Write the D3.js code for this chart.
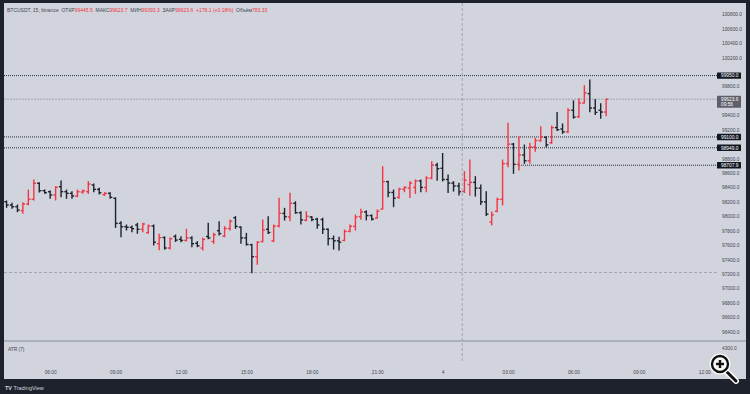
<!DOCTYPE html>
<html>
<head>
<meta charset="utf-8">
<script src="https://cdn.jsdelivr.net/npm/d3@7"></script>
<style>
  body { margin: 0; background: #1e222d; }
  svg { display: block; }
  text { font-family: "Liberation Sans", Arial, sans-serif; }
</style>
</head>
<body>
<script>
// BTCUSDT 15m bars, 04:00 (day 3) .. 07:30 (day 4)
var startTime = "2024-12-03T04:00:00Z";
var opens = [98202,98156,98133,98078,98170,98235,98457,98355,98341,98295,98410,98341,98318,98281,98336,98341,98434,98373,98300,98318,
  98249,97902,97856,97847,97879,97819,97773,97865,97620,97705,97560,97720,97680,97665,97700,97625,97560,97720,97650,97800,
  97725,97830,97980,97850,97700,97605,97440,97650,97820,97660,97865,98040,97990,98180,98050,97945,97990,97960,97955,97820,
  97690,97660,97665,97790,97860,97995,98060,98010,97975,98100,98480,98330,98262,98375,98390,98400,98490,98400,98530,98710,
  98665,98510,98460,98420,98345,98440,98470,98390,98200,97920,98070,98235,98730,99000,98720,98850,98770,98960,99050,99095,
  99020,99230,99210,99170,99470,99380,99570,99700,99500,99470,99445.5];
var highs = [98212,98180,98156,98189,98364,98503,98466,98364,98350,98410,98489,98364,98341,98364,98364,98480,98447,98387,98327,98327,
  98255,97925,97879,97865,97902,97902,97879,97879,97750,97715,97700,97740,97717,97819,97717,97648,97694,97902,97764,97925,
  97856,97948,97995,97856,97763,97611,97648,97948,97995,97879,98249,98110,98318,98202,98064,98064,97998,97971,97971,97823,
  97727,97708,97810,97879,98018,98096,98075,98018,98087,98688,98485,98364,98387,98410,98480,98503,98503,98549,98757,98734,
  98870,98572,98480,98457,98618,98780,98549,98434,98341,98060,98249,98780,99288,99011,99103,98988,99011,99080,99242,99103,
  99250,99440,99280,99490,99600,99630,99810,99889,99620,99560,99623.7];
var lows = [98124,98110,98064,98041,98160,98226,98336,98318,98249,98226,98272,98249,98249,98272,98318,98318,98341,98309,98290,98249,
  97847,97717,97810,97787,97764,97787,97764,97602,97535,97545,97545,97650,97648,97660,97579,97579,97533,97690,97625,97740,
  97717,97810,97833,97625,97600,97218,97334,97648,97763,97648,97856,97948,97939,98041,97893,97939,97939,97833,97763,97602,
  97546,97532,97662,97786,97810,97960,97950,97948,97971,98100,98272,98133,98249,98341,98260,98318,98341,98341,98520,98500,
  98490,98330,98350,98295,98330,98290,98280,98165,98010,97880,98064,98156,98688,98595,98641,98734,98734,98900,99040,98965,
  99011,99190,99150,99160,99360,99370,99570,99450,99410,99360,99393.3];
var closes = [98156,98133,98087,98170,98235,98457,98355,98327,98295,98401,98341,98318,98281,98341,98355,98447,98373,98327,98318,98263,
  97902,97856,97847,97828,97819,97893,97865,97640,97705,97560,97690,97670,97665,97700,97620,97590,97680,97700,97745,97760,
  97830,97930,97860,97700,97610,97440,97640,97810,97775,97865,98040,97995,98180,98050,97950,98000,97955,97880,97820,97690,
  97660,97640,97790,97860,97990,98060,98010,97960,98070,98480,98330,98250,98378,98400,98460,98490,98400,98530,98710,98660,
  98510,98460,98420,98340,98500,98470,98390,98200,98030,98020,98235,98730,99000,98720,98850,98770,98960,99050,99100,98990,
  99230,99200,99170,99470,99375,99570,99710,99500,99440,99445.5,99623.6];

var priceTicks = [100800,100600,100400,100200,100000,99800,99600,99400,99200,99000,98800,98600,98400,98200,98000,
  97800,97600,97400,97200,97000,96800,96600,96400];
var timeTicks = ["2024-12-03T06:00:00Z","2024-12-03T09:00:00Z","2024-12-03T12:00:00Z","2024-12-03T15:00:00Z",
  "2024-12-03T18:00:00Z","2024-12-03T21:00:00Z","2024-12-04T00:00:00Z","2024-12-04T03:00:00Z",
  "2024-12-04T06:00:00Z","2024-12-04T09:00:00Z","2024-12-04T12:00:00Z"];

// horizontal levels drawn on the chart
var levelPrices = [99950.0, 99100.0, 98949.0, 98707.9];
var levelFrom = [null, null, null, "2024-12-04T03:30:00Z"];
var lastPrice = 99623.6;
var countdown = "09:56";
var crossTime = "2024-12-04T00:54:00Z";
var crossPrice = 97221;
var atrTitle = "ATR (7)";
var atrLabel = "4300.0";

var headerParts = [
  ["BTCUSDT, 15, binance  ", "#434651"],
  ["ОТКР", "#434651"], ["99445.5  ", "#f23645"],
  ["МАКС", "#434651"], ["99623.7  ", "#f23645"],
  ["МИН", "#434651"], ["99393.3  ", "#f23645"],
  ["ЗАКР", "#434651"], ["99623.6  ", "#f23645"],
  ["+178.1 (+0.18%)  ", "#f23645"],
  ["Объём", "#434651"], ["783.33", "#f23645"]
];

var width = 750, height = 394;
var panel = {left: 4, top: 3, right: 746, bottom: 379};
var plotRight = 717;
var paneSep = 341;
var upColor = "#f23645", downColor = "#1e222d";

var parse = d3.isoParse;
var t0 = parse(startTime);
var bars = opens.map(function(o, i){
  return {t: d3.utcMinute.offset(t0, 15 * i), o: o, h: highs[i], l: lows[i], c: closes[i]};
});

var x = d3.scaleUtc()
  .domain([d3.utcMinute.offset(t0, -6.6), d3.utcMinute.offset(t0, 1955.8)])
  .range([panel.left, plotRight]);
var y = d3.scaleLinear().domain([96400, 100800]).range([331.7, 14.3]);

var svg = d3.select("body").append("svg").attr("width", width).attr("height", height);

svg.append("rect").attr("x", panel.left).attr("y", panel.top)
  .attr("width", panel.right - panel.left).attr("height", panel.bottom - panel.top)
  .attr("fill", "#d1d4dc");

svg.append("clipPath").attr("id", "plotclip").append("rect")
  .attr("x", panel.left).attr("y", panel.top).attr("width", plotRight - panel.left).attr("height", paneSep - panel.top);

var chart = svg.append("g").attr("clip-path", "url(#plotclip)");

// crosshair
chart.append("line").attr("x1", panel.left).attr("x2", plotRight)
  .attr("y1", y(crossPrice)).attr("y2", y(crossPrice))
  .attr("stroke", "#9598a1").attr("stroke-dasharray", "3,2").attr("stroke-width", 0.8);

// last price line
chart.append("line").attr("x1", panel.left).attr("x2", plotRight)
  .attr("y1", y(lastPrice)).attr("y2", y(lastPrice))
  .attr("stroke", "#9598a1").attr("stroke-dasharray", "2,1").attr("stroke-width", 0.8);

// level lines
levelPrices.forEach(function(p, i){
  var x1 = levelFrom[i] ? x(parse(levelFrom[i])) : panel.left;
  chart.append("line").attr("x1", x1).attr("x2", plotRight)
    .attr("y1", y(p)).attr("y2", y(p))
    .attr("stroke", "#131722").attr("stroke-dasharray", "1,1").attr("stroke-width", 0.9);
});

// OHLC bars
var g = chart.selectAll(".bar").data(bars).enter().append("g")
  .attr("stroke", function(d){ return d.c >= d.o ? upColor : downColor; })
  .attr("stroke-width", 1.4);
g.append("line").attr("x1", function(d){ return x(d.t); }).attr("x2", function(d){ return x(d.t); })
  .attr("y1", function(d){ return y(d.h) - 0.5; }).attr("y2", function(d){ return y(d.l) + 0.5; });
g.append("line").attr("x1", function(d){ return x(d.t) - 2.2; }).attr("x2", function(d){ return x(d.t); })
  .attr("y1", function(d){ return y(d.o); }).attr("y2", function(d){ return y(d.o); });
g.append("line").attr("x1", function(d){ return x(d.t); }).attr("x2", function(d){ return x(d.t) + 2.2; })
  .attr("y1", function(d){ return y(d.c); }).attr("y2", function(d){ return y(d.c); });

// vertical crosshair through both panes
svg.append("line").attr("x1", x(parse(crossTime))).attr("x2", x(parse(crossTime)))
  .attr("y1", panel.top).attr("y2", 362)
  .attr("stroke", "#9598a1").attr("stroke-dasharray", "3,2").attr("stroke-width", 0.8);

// pane separator
svg.append("line").attr("x1", panel.left).attr("x2", panel.right).attr("y1", paneSep).attr("y2", paneSep)
  .attr("stroke", "#8a8d97").attr("stroke-width", 1);

// price axis
var boxPrices = levelPrices.concat([lastPrice]);
var yAxis = d3.axisRight(y).tickValues(priceTicks).tickSize(0).tickPadding(0).tickFormat(d3.format(".1f"));
var ya = svg.append("g").attr("transform", "translate(722,0)").call(yAxis);
ya.select(".domain").remove();
ya.selectAll("text").attr("font-size", 4.8).attr("fill", "#434651").attr("text-anchor", "start")
  .attr("font-family", "Liberation Sans, Arial, sans-serif");
ya.selectAll(".tick").filter(function(d){
  return boxPrices.some(function(b){ return Math.abs(y(b) - y(d)) < 5; });
}).remove();

levelPrices.forEach(function(p){
  svg.append("rect").attr("x", 717).attr("y", y(p) - 3.2).attr("width", 24).attr("height", 6.4)
    .attr("fill", "#131722").attr("rx", 0.5);
  svg.append("text").attr("x", 721).attr("y", y(p)).attr("dy", "0.35em")
    .attr("font-size", 4.8).attr("fill", "#ffffff").text(d3.format(".1f")(p));
});
svg.append("rect").attr("x", 717).attr("y", y(lastPrice) - 3.5).attr("width", 24).attr("height", 12)
  .attr("fill", "#5d606b").attr("rx", 0.5);
svg.append("text").attr("x", 721).attr("y", y(lastPrice)).attr("dy", "0.35em")
  .attr("font-size", 4.8).attr("fill", "#ffffff").text(d3.format(".1f")(lastPrice));
svg.append("text").attr("x", 721).attr("y", y(lastPrice) + 5).attr("dy", "0.35em")
  .attr("font-size", 4.8).attr("fill", "#ffffff").text(countdown);

// ATR pane labels
svg.append("text").attr("x", 8).attr("y", 349).attr("dy", "0.35em")
  .attr("font-size", 4.8).attr("fill", "#434651").text(atrTitle);
svg.append("text").attr("x", 722).attr("y", 348).attr("dy", "0.35em")
  .attr("font-size", 4.8).attr("fill", "#434651").text(atrLabel);

// time axis
var xAxis = d3.axisBottom(x).tickValues(timeTicks.map(parse)).tickSize(0).tickPadding(0)
  .tickFormat(function(d){ return d.getUTCHours() === 0 ? String(d.getUTCDate()) : d3.utcFormat("%H:%M")(d); });
var xa = svg.append("g").attr("transform", "translate(0,372.5)").call(xAxis);
xa.select(".domain").remove();
xa.selectAll("text").attr("y", 0).attr("dy", "0.35em").attr("font-size", 4.8).attr("fill", "#434651")
  .attr("font-family", "Liberation Sans, Arial, sans-serif");

// header
var hdr = svg.append("text").attr("x", 7).attr("y", 10).attr("dy", "0.35em").attr("font-size", 5)
  .attr("xml:space", "preserve").style("white-space", "pre");
headerParts.forEach(function(p){ hdr.append("tspan").attr("fill", p[1]).text(p[0]); });

// TradingView mark
svg.append("text").attr("x", 5).attr("y", 388).attr("dy", "0.35em").attr("font-size", 5.5)
  .attr("fill", "#d1d4dc").attr("font-weight", "bold").text("TV");
svg.append("text").attr("x", 13.5).attr("y", 388).attr("dy", "0.35em").attr("font-size", 5.5)
  .attr("fill", "#d1d4dc").text("TradingView");

// viewer zoom icon
var icon = svg.append("g");
icon.append("line").attr("x1", 725).attr("y1", 370).attr("x2", 736).attr("y2", 381)
  .attr("stroke", "#ffffff").attr("stroke-width", 6).attr("stroke-linecap", "round");
icon.append("line").attr("x1", 725).attr("y1", 370).attr("x2", 736).attr("y2", 381)
  .attr("stroke", "#111111").attr("stroke-width", 3).attr("stroke-linecap", "round");
icon.append("circle").attr("cx", 720).attr("cy", 364).attr("r", 8)
  .attr("fill", "#f4f4f4").attr("stroke", "#ffffff").attr("stroke-width", 5);
icon.append("circle").attr("cx", 720).attr("cy", 364).attr("r", 8)
  .attr("fill", "none").attr("stroke", "#111111").attr("stroke-width", 2.4);
icon.append("line").attr("x1", 716).attr("x2", 724).attr("y1", 364).attr("y2", 364)
  .attr("stroke", "#111111").attr("stroke-width", 2.4);
icon.append("line").attr("x1", 720).attr("x2", 720).attr("y1", 360).attr("y2", 368)
  .attr("stroke", "#111111").attr("stroke-width", 2.4);
</script>
</body>
</html>
